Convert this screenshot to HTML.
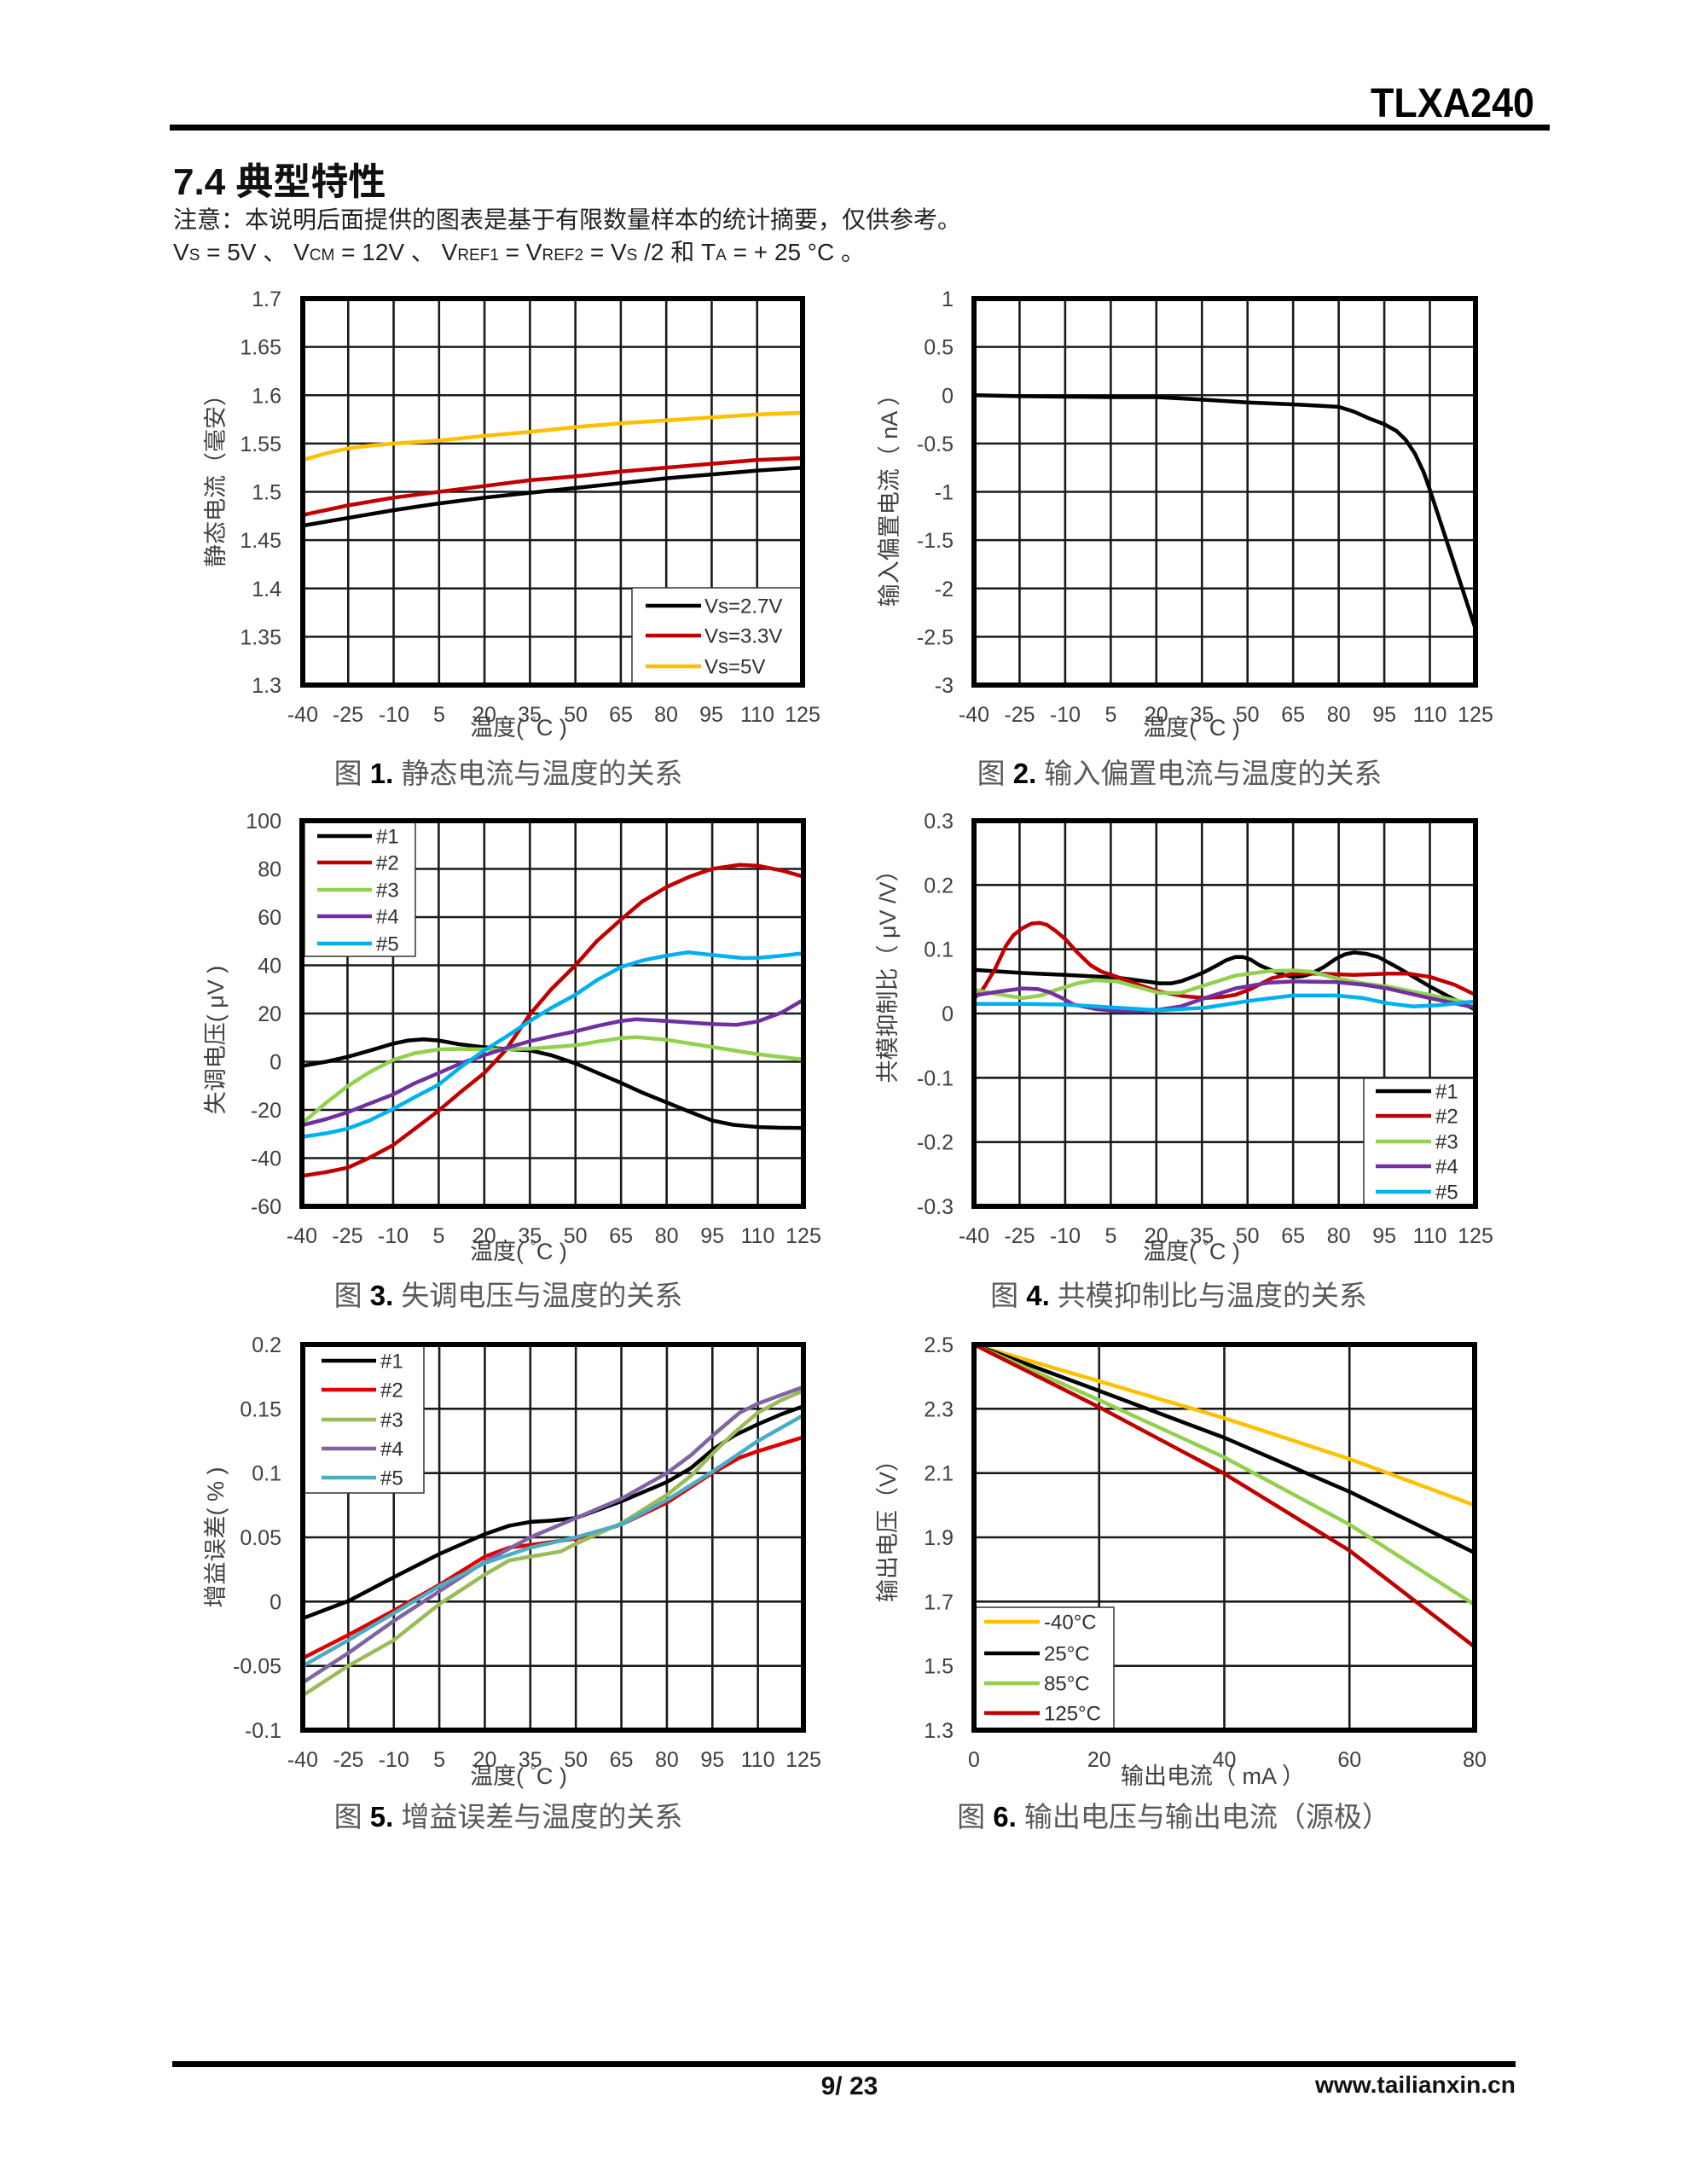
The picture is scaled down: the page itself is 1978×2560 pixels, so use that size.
<!DOCTYPE html>
<html><head><meta charset="utf-8">
<style>
html,body{margin:0;padding:0;background:#fff;}
body{width:1978px;height:2560px;overflow:hidden;}
svg{display:block;}
.g{fill:none;stroke:#1a1a1a;stroke-width:2.6px;vector-effect:non-scaling-stroke;}
.c{fill:none;stroke-width:4.5px;stroke-linejoin:round;stroke-linecap:round;vector-effect:non-scaling-stroke;}
.b{fill:none;stroke:#000;stroke-width:6px;}
.lg{fill:#fff;stroke:#333;stroke-width:1.5px;}
.ll{stroke-width:4.5px;}
.tk{font-size:25px;fill:#404040;}
.tl{font-size:24px;fill:#303030;}
.at{font-size:27px;fill:#404040;}
.cap{font-size:33px;fill:#595959;}
</style></head>
<body>
<svg xmlns="http://www.w3.org/2000/svg" width="1978" height="2560" viewBox="0 0 1978 2560" font-family="'Liberation Sans','Noto Sans CJK SC',sans-serif">

<!-- Header -->
<text x="1799" y="137" font-size="48" font-weight="bold" text-anchor="end" fill="#000" textLength="192" lengthAdjust="spacingAndGlyphs">TLXA240</text>
<rect x="199" y="146" width="1618" height="7" fill="#000"/>
<text x="203" y="228" font-size="44" font-weight="bold" fill="#111">7.4 典型特性</text>
<text x="203" y="267" font-size="28" fill="#222">注意：本说明后面提供的图表是基于有限数量样本的统计摘要，仅供参考。</text>
<text x="203" y="305" font-size="28" fill="#222">V<tspan font-size="19">S</tspan> = 5V 、 V<tspan font-size="19">CM</tspan> = 12V 、 V<tspan font-size="19">REF1</tspan> = V<tspan font-size="19">REF2</tspan> = V<tspan font-size="19">S</tspan> /2 和 T<tspan font-size="19">A</tspan> = + 25 °C 。</text>

<!-- ============ Chart 1 ============ -->
<g transform="translate(355,803) scale(3.5515,-1132.5) translate(40,-1.3)">
<path class="g" d="M-25 1.3V1.7M-10 1.3V1.7M5 1.3V1.7M20 1.3V1.7M35 1.3V1.7M50 1.3V1.7M65 1.3V1.7M80 1.3V1.7M95 1.3V1.7M110 1.3V1.7M-40 1.35H125M-40 1.4H125M-40 1.45H125M-40 1.5H125M-40 1.55H125M-40 1.6H125M-40 1.65H125"/>
<polyline class="c" stroke="#ffc000" points="-40,1.533 -32,1.540 -25,1.545 -17,1.548 -10,1.550 5,1.553 20,1.558 35,1.562 50,1.567 65,1.571 80,1.574 95,1.577 110,1.580 125,1.582"/>
<polyline class="c" stroke="#c00000" points="-40,1.476 -25,1.486 -10,1.494 5,1.500 20,1.506 35,1.512 50,1.516 65,1.521 80,1.525 95,1.529 110,1.533 125,1.535"/>
<polyline class="c" stroke="#000" points="-40,1.465 -25,1.473 -10,1.481 5,1.488 20,1.494 35,1.499 50,1.504 65,1.509 80,1.514 95,1.518 110,1.522 125,1.525"/>
</g>
<rect class="lg" x="741" y="689" width="200" height="114"/>
<line class="ll" x1="757" y1="710" x2="822" y2="710" stroke="#000"/>
<line class="ll" x1="757" y1="745" x2="822" y2="745" stroke="#c00000"/>
<line class="ll" x1="757" y1="781" x2="822" y2="781" stroke="#ffc000"/>
<text class="tl" x="826" y="718.5">Vs=2.7V</text>
<text class="tl" x="826" y="753.5">Vs=3.3V</text>
<text class="tl" x="826" y="789.5">Vs=5V</text>
<rect class="b" x="355" y="350" width="586" height="453"/>
<g class="tk" text-anchor="end">
<text x="330" y="359">1.7</text><text x="330" y="415.6">1.65</text><text x="330" y="472.3">1.6</text><text x="330" y="528.9">1.55</text><text x="330" y="585.5">1.5</text><text x="330" y="642.1">1.45</text><text x="330" y="698.8">1.4</text><text x="330" y="755.4">1.35</text><text x="330" y="812">1.3</text>
</g>
<g class="tk" text-anchor="middle">
<text x="355" y="846">-40</text><text x="408" y="846">-25</text><text x="462" y="846">-10</text><text x="515" y="846">5</text><text x="568" y="846">20</text><text x="621" y="846">35</text><text x="675" y="846">50</text><text x="728" y="846">65</text><text x="781" y="846">80</text><text x="834" y="846">95</text><text x="888" y="846">110</text><text x="941" y="846">125</text>
</g>
<text class="at" x="608" y="862" text-anchor="middle">温度( <tspan font-size="18" dy="-9">°</tspan><tspan dy="9">C )</tspan></text>
<text class="at" transform="translate(262,557) rotate(-90)" text-anchor="middle">静态电流（毫安）</text>
<text class="cap" x="596" y="918" text-anchor="middle">图 <tspan font-weight="bold" fill="#000">1.</tspan> 静态电流与温度的关系</text>

<!-- ============ Chart 2 ============ -->
<g transform="translate(1142,803) scale(3.5636,-113.25) translate(40,3)">
<path class="g" d="M-25 -3V1M-10 -3V1M5 -3V1M20 -3V1M35 -3V1M50 -3V1M65 -3V1M80 -3V1M95 -3V1M110 -3V1M-40 -2.5H125M-40 -2H125M-40 -1.5H125M-40 -1H125M-40 -0.5H125M-40 0H125M-40 0.5H125"/>
<polyline class="c" stroke="#000" points="-40,0 -25,-0.01 -10,-0.015 5,-0.02 20,-0.02 35,-0.045 50,-0.075 65,-0.095 80,-0.12 85,-0.17 90,-0.24 95,-0.3 99,-0.37 102,-0.46 105,-0.6 108,-0.8 110,-0.98 117,-1.65 125,-2.42"/>
</g>
<rect class="b" x="1142" y="350" width="588" height="453"/>
<g class="tk" text-anchor="end">
<text x="1118" y="359">1</text><text x="1118" y="415.6">0.5</text><text x="1118" y="472.3">0</text><text x="1118" y="528.9">-0.5</text><text x="1118" y="585.5">-1</text><text x="1118" y="642.1">-1.5</text><text x="1118" y="698.8">-2</text><text x="1118" y="755.4">-2.5</text><text x="1118" y="812">-3</text>
</g>
<g class="tk" text-anchor="middle">
<text x="1142" y="846">-40</text><text x="1195.5" y="846">-25</text><text x="1249" y="846">-10</text><text x="1302.4" y="846">5</text><text x="1355.8" y="846">20</text><text x="1409.3" y="846">35</text><text x="1462.7" y="846">50</text><text x="1516.2" y="846">65</text><text x="1569.6" y="846">80</text><text x="1623.1" y="846">95</text><text x="1676.5" y="846">110</text><text x="1730" y="846">125</text>
</g>
<text class="at" x="1397" y="862" text-anchor="middle">温度( <tspan font-size="18" dy="-9">°</tspan><tspan dy="9">C )</tspan></text>
<text class="at" transform="translate(1052,580) rotate(-90)" text-anchor="middle">输入偏置电流（ nA ）</text>
<text class="cap" x="1383" y="918" text-anchor="middle">图 <tspan font-weight="bold" fill="#000">2.</tspan> 输入偏置电流与温度的关系</text>

<!-- ============ Chart 3 ============ -->
<g transform="translate(354,1414) scale(3.5636,-2.825) translate(40,60)">
<path class="g" d="M-25 -60V100M-10 -60V100M5 -60V100M20 -60V100M35 -60V100M50 -60V100M65 -60V100M80 -60V100M95 -60V100M110 -60V100M-40 -40H125M-40 -20H125M-40 0H125M-40 20H125M-40 40H125M-40 60H125M-40 80H125"/>
<polyline class="c" stroke="#000" points="-40,-1.8 -32,0 -25,2 -18,4.5 -10,7.5 -5,8.8 0,9.3 5,8.8 12,7.2 20,6 28,5.2 35,4.7 42,2.7 50,-0.7 57,-4.5 65,-8.8 72,-12.8 80,-16.9 88,-21 95,-24.4 102,-26.2 110,-27.1 117,-27.4 125,-27.5"/>
<polyline class="c" stroke="#c00000" points="-40,-47.4 -32,-45.8 -25,-44 -18,-40 -10,-34.6 -3,-28 5,-20.3 12,-12.8 20,-4.7 27,4.7 35,19.6 42,30 50,40 57,50 65,59 72,66.5 80,72.5 88,77 95,80 104,81.7 110,81.3 118,79.3 125,76.8"/>
<polyline class="c" stroke="#92d050" points="-40,-25.7 -32,-17 -25,-10.2 -18,-4.5 -10,0.7 -3,3.5 5,5.1 12,5.3 20,5.1 28,5.2 35,5.4 42,6 50,6.8 57,8.3 65,9.8 70,10.2 80,9.1 95,6.1 110,3.1 125,0.9"/>
<polyline class="c" stroke="#7030a0" points="-40,-26.4 -32,-23.8 -25,-21 -18,-17.5 -10,-13.6 -3,-9 5,-4.7 12,-0.8 20,2.7 28,6 35,8.5 42,10.5 50,12.6 57,14.8 65,16.9 70,17.6 80,16.9 95,15.6 103,15.3 110,16.7 118,20.5 125,25.7"/>
<polyline class="c" stroke="#00b0f0" points="-40,-31.2 -32,-29.7 -25,-27.8 -18,-24.5 -10,-19.6 -3,-14.8 5,-9.5 12,-2.5 20,4.7 28,11 35,16.9 42,22.3 50,27.8 57,33.8 65,39.3 72,42 80,44 87,45.4 95,44.3 105,43 110,43.1 118,44 125,45"/>
</g>
<rect class="lg" x="357" y="963" width="130" height="158"/>
<line class="ll" x1="372" y1="980" x2="436" y2="980" stroke="#000"/>
<line class="ll" x1="372" y1="1011" x2="436" y2="1011" stroke="#c00000"/>
<line class="ll" x1="372" y1="1043" x2="436" y2="1043" stroke="#92d050"/>
<line class="ll" x1="372" y1="1074" x2="436" y2="1074" stroke="#7030a0"/>
<line class="ll" x1="372" y1="1106" x2="436" y2="1106" stroke="#00b0f0"/>
<g class="tl"><text x="441" y="988.5">#1</text><text x="441" y="1019.5">#2</text><text x="441" y="1051.5">#3</text><text x="441" y="1082.5">#4</text><text x="441" y="1114.5">#5</text></g>
<rect class="b" x="354" y="962" width="588" height="452"/>
<g class="tk" text-anchor="end">
<text x="330" y="971">100</text><text x="330" y="1027.5">80</text><text x="330" y="1084">60</text><text x="330" y="1140.5">40</text><text x="330" y="1197">20</text><text x="330" y="1253.5">0</text><text x="330" y="1310">-20</text><text x="330" y="1366.5">-40</text><text x="330" y="1423">-60</text>
</g>
<g class="tk" text-anchor="middle">
<text x="354" y="1457">-40</text><text x="407.5" y="1457">-25</text><text x="461" y="1457">-10</text><text x="514.4" y="1457">5</text><text x="567.8" y="1457">20</text><text x="621.3" y="1457">35</text><text x="674.7" y="1457">50</text><text x="728.2" y="1457">65</text><text x="781.6" y="1457">80</text><text x="835.1" y="1457">95</text><text x="888.5" y="1457">110</text><text x="942" y="1457">125</text>
</g>
<text class="at" x="608" y="1476" text-anchor="middle">温度( <tspan font-size="18" dy="-9">°</tspan><tspan dy="9">C )</tspan></text>
<text class="at" transform="translate(262,1219) rotate(-90)" text-anchor="middle">失调电压( μV )</text>
<text class="cap" x="596" y="1530" text-anchor="middle">图 <tspan font-weight="bold" fill="#000">3.</tspan> 失调电压与温度的关系</text>

<!-- ============ Chart 4 ============ -->
<g transform="translate(1142,1414) scale(3.5636,-753.33) translate(40,0.3)">
<path class="g" d="M-25 -0.3V0.3M-10 -0.3V0.3M5 -0.3V0.3M20 -0.3V0.3M35 -0.3V0.3M50 -0.3V0.3M65 -0.3V0.3M80 -0.3V0.3M95 -0.3V0.3M110 -0.3V0.3M-40 -0.2H125M-40 -0.1H125M-40 0H125M-40 0.1H125M-40 0.2H125"/>
<polyline class="c" stroke="#000" points="-40,0.068 -24,0.063 -10,0.060 7,0.056 15,0.051 21,0.047 25,0.047 28,0.050 32,0.057 36,0.065 40,0.075 43,0.083 46,0.088 48.5,0.088 51,0.084 54,0.075 58,0.067 62,0.060 65,0.057 68,0.058 71,0.062 75,0.072 79,0.085 82,0.092 85,0.095 89,0.093 93,0.088 100,0.070 110,0.042 118,0.022 125,0.006"/>
<polyline class="c" stroke="#c00000" points="-40,0.024 -38,0.032 -36.5,0.042 -33,0.070 -29.5,0.105 -27,0.122 -24,0.133 -21,0.140 -18.4,0.141 -16,0.138 -13,0.128 -10,0.116 -6,0.095 -1.6,0.075 2,0.065 7,0.057 14,0.045 21,0.034 29,0.027 36,0.024 42,0.026 46,0.029 51,0.038 58,0.055 65,0.062 72,0.062 79,0.061 85,0.060 96,0.062 103,0.062 110,0.057 118,0.045 125,0.029"/>
<polyline class="c" stroke="#92d050" points="-40,0.037 -32,0.030 -24,0.024 -18,0.028 -12.8,0.037 -6,0.047 -0.2,0.052 7,0.050 14,0.041 21,0.032 28,0.032 36,0.044 46,0.059 57,0.066 65,0.067 71,0.065 79,0.055 88,0.047 96,0.042 110,0.029 125,0.014"/>
<polyline class="c" stroke="#7030a0" points="-40,0.028 -32,0.034 -24,0.039 -19,0.038 -15.6,0.034 -11,0.024 -7.2,0.014 0,0.007 7,0.004 14,0.004 21,0.006 28,0.011 36,0.024 46,0.039 57,0.048 65,0.050 79,0.049 88,0.045 96,0.039 110,0.024 125,0.009"/>
<polyline class="c" stroke="#00b0f0" points="-40,0.015 -24,0.015 -10,0.014 7,0.009 21,0.005 36,0.009 51,0.020 65,0.028 79,0.028 88,0.024 96,0.016 104.5,0.011 113,0.013 125,0.019"/>
</g>
<rect class="lg" x="1599" y="1264" width="131" height="150"/>
<line class="ll" x1="1613" y1="1279" x2="1678" y2="1279" stroke="#000"/>
<line class="ll" x1="1613" y1="1308" x2="1678" y2="1308" stroke="#c00000"/>
<line class="ll" x1="1613" y1="1338" x2="1678" y2="1338" stroke="#92d050"/>
<line class="ll" x1="1613" y1="1367" x2="1678" y2="1367" stroke="#7030a0"/>
<line class="ll" x1="1613" y1="1397" x2="1678" y2="1397" stroke="#00b0f0"/>
<g class="tl"><text x="1683" y="1287.5">#1</text><text x="1683" y="1316.5">#2</text><text x="1683" y="1346.5">#3</text><text x="1683" y="1375.5">#4</text><text x="1683" y="1405.5">#5</text></g>
<rect class="b" x="1142" y="962" width="588" height="452"/>
<g class="tk" text-anchor="end">
<text x="1118" y="971">0.3</text><text x="1118" y="1046.3">0.2</text><text x="1118" y="1121.7">0.1</text><text x="1118" y="1197">0</text><text x="1118" y="1272.3">-0.1</text><text x="1118" y="1347.7">-0.2</text><text x="1118" y="1423">-0.3</text>
</g>
<g class="tk" text-anchor="middle">
<text x="1142" y="1457">-40</text><text x="1195.5" y="1457">-25</text><text x="1249" y="1457">-10</text><text x="1302.4" y="1457">5</text><text x="1355.8" y="1457">20</text><text x="1409.3" y="1457">35</text><text x="1462.7" y="1457">50</text><text x="1516.2" y="1457">65</text><text x="1569.6" y="1457">80</text><text x="1623.1" y="1457">95</text><text x="1676.5" y="1457">110</text><text x="1730" y="1457">125</text>
</g>
<text class="at" x="1397" y="1476" text-anchor="middle">温度( <tspan font-size="18" dy="-9">°</tspan><tspan dy="9">C )</tspan></text>
<text class="at" transform="translate(1050,1138) rotate(-90)" text-anchor="middle">共模抑制比（ μV /V）</text>
<text class="cap" x="1382" y="1530" text-anchor="middle">图 <tspan font-weight="bold" fill="#000">4.</tspan> 共模抑制比与温度的关系</text>

<!-- ============ Chart 5 ============ -->
<g transform="translate(355,2028) scale(3.5576,-1506.67) translate(40,0.1)">
<path class="g" d="M-25 -0.1V0.2M-10 -0.1V0.2M5 -0.1V0.2M20 -0.1V0.2M35 -0.1V0.2M50 -0.1V0.2M65 -0.1V0.2M80 -0.1V0.2M95 -0.1V0.2M110 -0.1V0.2M-40 -0.05H125M-40 0H125M-40 0.05H125M-40 0.1H125M-40 0.15H125"/>
<polyline class="c" stroke="#000" points="-40,-0.013 -25,0.0004 -10,0.019 5,0.037 20,0.0525 28,0.059 35,0.062 42,0.063 50,0.065 65,0.078 80,0.093 88,0.104 95,0.118 102,0.129 110,0.138 118,0.146 125,0.152"/>
<polyline class="c" stroke="#e00000" points="-40,-0.044 -25,-0.026 -10,-0.007 5,0.013 20,0.035 28,0.042 35,0.044 50,0.049 65,0.060 80,0.077 95,0.100 104,0.112 110,0.117 125,0.128"/>
<polyline class="c" stroke="#9bbb59" points="-40,-0.073 -25,-0.050 -10,-0.030 5,-0.002 20,0.021 28,0.032 35,0.035 45,0.039 50,0.045 65,0.061 80,0.083 88,0.098 95,0.115 102,0.131 110,0.147 118,0.157 125,0.164"/>
<polyline class="c" stroke="#8064a2" points="-40,-0.063 -25,-0.040 -10,-0.015 5,0.008 20,0.031 35,0.050 50,0.065 65,0.080 80,0.100 88,0.114 95,0.129 104,0.147 110,0.154 118,0.161 125,0.167"/>
<polyline class="c" stroke="#4bacc6" points="-40,-0.050 -25,-0.030 -10,-0.009 5,0.012 20,0.030 35,0.042 50,0.050 65,0.060 80,0.079 95,0.101 110,0.125 125,0.145"/>
</g>
<rect class="lg" x="357" y="1578" width="140" height="172"/>
<line class="ll" x1="377" y1="1595" x2="441" y2="1595" stroke="#000"/>
<line class="ll" x1="377" y1="1629" x2="441" y2="1629" stroke="#e00000"/>
<line class="ll" x1="377" y1="1664" x2="441" y2="1664" stroke="#9bbb59"/>
<line class="ll" x1="377" y1="1698" x2="441" y2="1698" stroke="#8064a2"/>
<line class="ll" x1="377" y1="1732" x2="441" y2="1732" stroke="#4bacc6"/>
<g class="tl"><text x="446" y="1603.5">#1</text><text x="446" y="1637.5">#2</text><text x="446" y="1672.5">#3</text><text x="446" y="1706.5">#4</text><text x="446" y="1740.5">#5</text></g>
<rect class="b" x="355" y="1576" width="587" height="452"/>
<g class="tk" text-anchor="end">
<text x="330" y="1585">0.2</text><text x="330" y="1660.3">0.15</text><text x="330" y="1735.7">0.1</text><text x="330" y="1811">0.05</text><text x="330" y="1886.3">0</text><text x="330" y="1961.7">-0.05</text><text x="330" y="2037">-0.1</text>
</g>
<g class="tk" text-anchor="middle">
<text x="355" y="2071">-40</text><text x="408.4" y="2071">-25</text><text x="461.7" y="2071">-10</text><text x="515.1" y="2071">5</text><text x="568.5" y="2071">20</text><text x="621.8" y="2071">35</text><text x="675.2" y="2071">50</text><text x="728.5" y="2071">65</text><text x="781.9" y="2071">80</text><text x="835.3" y="2071">95</text><text x="888.6" y="2071">110</text><text x="942" y="2071">125</text>
</g>
<text class="at" x="608" y="2091" text-anchor="middle">温度( <tspan font-size="18" dy="-9">°</tspan><tspan dy="9">C )</tspan></text>
<text class="at" transform="translate(262,1802) rotate(-90)" text-anchor="middle">增益误差( % )</text>
<text class="cap" x="596" y="2141" text-anchor="middle">图 <tspan font-weight="bold" fill="#000">5.</tspan> 增益误差与温度的关系</text>

<!-- ============ Chart 6 ============ -->
<g transform="translate(1142,2028) scale(7.3375,-376.67) translate(0,-1.3)">
<path class="g" d="M20 1.3V2.5M40 1.3V2.5M60 1.3V2.5M0 1.5H80M0 1.7H80M0 1.9H80M0 2.1H80M0 2.3H80"/>
<polyline class="c" stroke="#ffc000" points="0,2.5 20,2.386 40,2.271 60,2.144 80,2.0"/>
<polyline class="c" stroke="#000" points="0,2.5 20,2.356 40,2.21 60,2.042 80,1.852"/>
<polyline class="c" stroke="#92d050" points="0,2.5 20,2.327 40,2.149 60,1.94 80,1.69"/>
<polyline class="c" stroke="#c00000" points="0,2.5 20,2.305 40,2.098 60,1.859 80,1.559"/>
</g>
<rect class="lg" x="1144" y="1884" width="162" height="144"/>
<line class="ll" x1="1154" y1="1901" x2="1219" y2="1901" stroke="#ffc000"/>
<line class="ll" x1="1154" y1="1938" x2="1219" y2="1938" stroke="#000"/>
<line class="ll" x1="1154" y1="1973" x2="1219" y2="1973" stroke="#92d050"/>
<line class="ll" x1="1154" y1="2008" x2="1219" y2="2008" stroke="#c00000"/>
<g class="tl"><text x="1224" y="1909.5">-40°C</text><text x="1224" y="1946.5">25°C</text><text x="1224" y="1981.5">85°C</text><text x="1224" y="2016.5">125°C</text></g>
<rect class="b" x="1142" y="1576" width="587" height="452"/>
<g class="tk" text-anchor="end">
<text x="1118" y="1585">2.5</text><text x="1118" y="1660.3">2.3</text><text x="1118" y="1735.7">2.1</text><text x="1118" y="1811">1.9</text><text x="1118" y="1886.3">1.7</text><text x="1118" y="1961.7">1.5</text><text x="1118" y="2037">1.3</text>
</g>
<g class="tk" text-anchor="middle">
<text x="1142" y="2071">0</text><text x="1288.75" y="2071">20</text><text x="1435.5" y="2071">40</text><text x="1582.25" y="2071">60</text><text x="1729" y="2071">80</text>
</g>
<text class="at" x="1422" y="2091" text-anchor="middle">输出电流（ mA ）</text>
<text class="at" transform="translate(1050,1788) rotate(-90)" text-anchor="middle">输出电压（V）</text>
<text class="cap" x="1376" y="2141" text-anchor="middle">图 <tspan font-weight="bold" fill="#000">6.</tspan> 输出电压与输出电流（源极）</text>

<!-- Footer -->
<rect x="202" y="2416" width="1575" height="7" fill="#000"/>
<text x="996" y="2455" font-size="30" font-weight="bold" text-anchor="middle" fill="#111">9/ 23</text>
<text x="1777" y="2453" font-size="28" font-weight="bold" text-anchor="end" fill="#111" textLength="235" lengthAdjust="spacingAndGlyphs">www.tailianxin.cn</text>
</svg>
</body></html>
